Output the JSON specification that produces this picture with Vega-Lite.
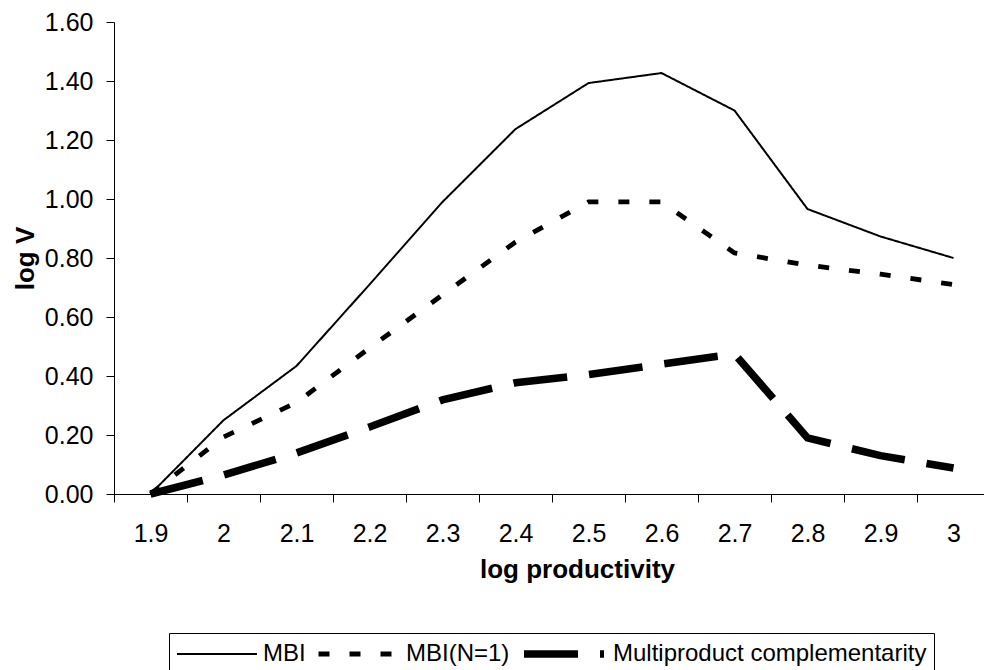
{
  "$schema": "https://vega.github.io/schema/vega-lite/v6.json",
  "width": 870,
  "height": 472,
  "autosize": {"type": "none"},
  "padding": {"left": 114, "top": 22, "right": 0, "bottom": 176},
  "background": "white",
  "config": {
    "font": "Liberation Sans",
    "view": {"stroke": null}
  },
  "data": {
    "values": [
      {"x": "1.9", "s": "MBI", "v": 0},
      {"x": "2", "s": "MBI", "v": 0.25},
      {"x": "2.1", "s": "MBI", "v": 0.434},
      {"x": "2.2", "s": "MBI", "v": 0.71},
      {"x": "2.3", "s": "MBI", "v": 0.99},
      {"x": "2.4", "s": "MBI", "v": 1.237},
      {"x": "2.5", "s": "MBI", "v": 1.393},
      {"x": "2.6", "s": "MBI", "v": 1.427},
      {"x": "2.7", "s": "MBI", "v": 1.3},
      {"x": "2.8", "s": "MBI", "v": 0.966},
      {"x": "2.9", "s": "MBI", "v": 0.873},
      {"x": "3", "s": "MBI", "v": 0.8},
      {"x": "1.9", "s": "MBI(N=1)", "v": 0},
      {"x": "2", "s": "MBI(N=1)", "v": 0.193},
      {"x": "2.1", "s": "MBI(N=1)", "v": 0.31},
      {"x": "2.2", "s": "MBI(N=1)", "v": 0.495},
      {"x": "2.3", "s": "MBI(N=1)", "v": 0.675},
      {"x": "2.4", "s": "MBI(N=1)", "v": 0.854},
      {"x": "2.5", "s": "MBI(N=1)", "v": 0.99},
      {"x": "2.6", "s": "MBI(N=1)", "v": 0.99},
      {"x": "2.7", "s": "MBI(N=1)", "v": 0.817},
      {"x": "2.8", "s": "MBI(N=1)", "v": 0.776},
      {"x": "2.9", "s": "MBI(N=1)", "v": 0.745},
      {"x": "3", "s": "MBI(N=1)", "v": 0.71},
      {"x": "1.9", "s": "Multiproduct complementarity", "v": 0},
      {"x": "2", "s": "Multiproduct complementarity", "v": 0.064},
      {"x": "2.1", "s": "Multiproduct complementarity", "v": 0.139},
      {"x": "2.2", "s": "Multiproduct complementarity", "v": 0.227},
      {"x": "2.3", "s": "Multiproduct complementarity", "v": 0.319},
      {"x": "2.4", "s": "Multiproduct complementarity", "v": 0.377},
      {"x": "2.5", "s": "Multiproduct complementarity", "v": 0.405},
      {"x": "2.6", "s": "Multiproduct complementarity", "v": 0.44},
      {"x": "2.7", "s": "Multiproduct complementarity", "v": 0.475},
      {"x": "2.8", "s": "Multiproduct complementarity", "v": 0.19},
      {"x": "2.9", "s": "Multiproduct complementarity", "v": 0.13},
      {"x": "3", "s": "Multiproduct complementarity", "v": 0.088}
    ]
  },
  "mark": {"type": "line", "strokeCap": "butt", "strokeJoin": "miter", "color": "black"},
  "encoding": {
    "x": {
      "field": "x",
      "type": "ordinal",
      "sort": ["1.9", "2", "2.1", "2.2", "2.3", "2.4", "2.5", "2.6", "2.7", "2.8", "2.9", "3"],
      "bandPosition": 0.5,
      "scale": {"type": "band", "paddingInner": 0, "paddingOuter": 0, "range": [0, 876]},
      "axis": {
        "title": "log productivity",
        "labelAngle": 0,
        "tickBand": "extent",
        "domainColor": "black",
        "tickColor": "black",
        "tickSize": 8,
        "labelFont": "Liberation Sans",
        "labelFontSize": 25,
        "labelColor": "black",
        "labelPadding": 19,
        "labelOverlap": false,
        "titleFont": "Liberation Sans",
        "titleFontSize": 26,
        "titleFontWeight": "bold",
        "titleColor": "black",
        "titleX": 463,
        "titleY": 83,
        "titleBaseline": "alphabetic",
        "titleAlign": "center",
        "titleAnchor": null
      }
    },
    "y": {
      "field": "v",
      "type": "quantitative",
      "scale": {"domain": [0, 1.6], "nice": false},
      "axis": {
        "title": "log V",
        "values": [0, 0.2, 0.4, 0.6, 0.8, 1.0, 1.2, 1.4, 1.6],
        "format": ".2f",
        "grid": false,
        "domainColor": "black",
        "tickColor": "black",
        "tickSize": 8,
        "labelFont": "Liberation Sans",
        "labelFontSize": 25,
        "labelColor": "black",
        "labelPadding": 13,
        "labelOverlap": false,
        "titleFont": "Liberation Sans",
        "titleFontSize": 26,
        "titleFontWeight": "bold",
        "titleColor": "black",
        "titleAngle": 270,
        "titleX": -81,
        "titleY": 236,
        "titleBaseline": "alphabetic",
        "titleAlign": "center",
        "titleAnchor": null
      }
    },
    "strokeDash": {
      "field": "s",
      "type": "nominal",
      "scale": {
        "domain": ["MBI", "MBI(N=1)", "Multiproduct complementarity"],
        "range": [[1, 0], [11, 20], [54, 22]]
      },
      "legend": {
        "title": null,
        "orient": "none",
        "legendX": 55,
        "legendY": 611,
        "direction": "horizontal",
        "symbolType": "stroke",
        "symbolSize": 6400,
        "symbolStrokeColor": "black",
        "clipHeight": 28,
        "labelFont": "Liberation Sans",
        "labelFontSize": 24,
        "labelColor": "black",
        "labelOffset": 5,
        "labelLimit": 500,
        "columnPadding": 10,
        "padding": 7,
        "strokeColor": "black",
        "fillColor": "white",
        "cornerRadius": 0
      }
    },
    "strokeWidth": {
      "field": "s",
      "type": "nominal",
      "scale": {
        "domain": ["MBI", "MBI(N=1)", "Multiproduct complementarity"],
        "range": [2, 7.6]
      },
      "legend": {
        "title": null,
        "orient": "none",
        "legendX": 55,
        "legendY": 611,
        "direction": "horizontal",
        "symbolType": "stroke",
        "symbolSize": 6400,
        "symbolStrokeColor": "black",
        "clipHeight": 28,
        "labelFont": "Liberation Sans",
        "labelFontSize": 24,
        "labelColor": "black",
        "labelOffset": 5,
        "labelLimit": 500,
        "columnPadding": 10,
        "padding": 7,
        "strokeColor": "black",
        "fillColor": "white",
        "cornerRadius": 0
      }
    }
  }
}
